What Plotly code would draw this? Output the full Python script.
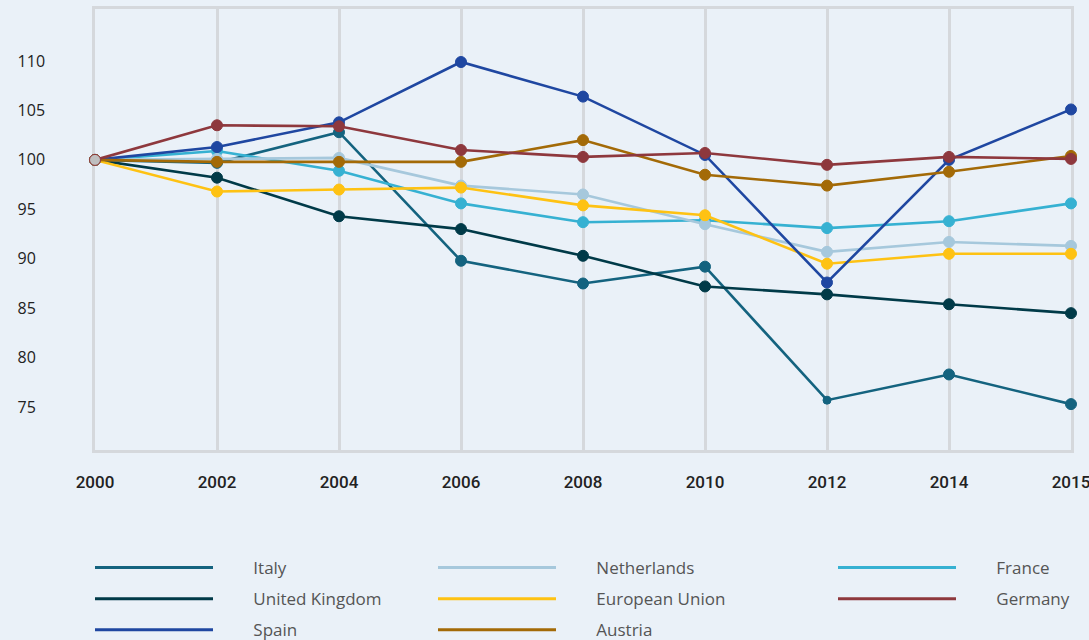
import plotly.graph_objects as go

years = ["2000", "2002", "2004", "2006", "2008", "2010", "2012", "2014", "2015"]

italy = [100, 99.7, 102.8, 89.8, 87.5, 89.2, 75.7, 78.3, 75.3]
uk = [100, 98.2, 94.3, 93.0, 90.3, 87.2, 86.4, 85.4, 84.5]
spain = [100, 101.3, 103.8, 109.9, 106.4, 100.5, 87.6, 100.0, 105.1]
netherlands = [100, 100.1, 100.2, 97.4, 96.5, 93.5, 90.7, 91.7, 91.3]
eu = [100, 96.8, 97.0, 97.2, 95.4, 94.4, 89.5, 90.5, 90.5]
austria = [100, 99.8, 99.8, 99.8, 102.0, 98.5, 97.4, 98.8, 100.4]
france = [100, 100.9, 98.9, 95.6, 93.7, 93.9, 93.1, 93.8, 95.6]
germany = [100, 103.5, 103.4, 101.0, 100.3, 100.7, 99.5, 100.3, 100.1]

y_ticks = [75, 80, 85, 90, 95, 100, 105, 110]

series = [
    ("Italy", italy, "#14637f", "legend"),
    ("United Kingdom", uk, "#003a48", "legend"),
    ("Spain", spain, "#1f47a1", "legend"),
    ("Netherlands", netherlands, "#a6c8dc", "legend2"),
    ("European Union", eu, "#fec213", "legend2"),
    ("Austria", austria, "#a36a07", "legend2"),
    ("France", france, "#36b1d2", "legend3"),
    ("Germany", germany, "#8e383d", "legend3"),
]

draw_order = ["Italy", "United Kingdom", "France", "Netherlands", "European Union",
              "Spain", "Austria", "Germany"]

BG = "#eaf1f8"
GRID = "#d5d8dc"
START = "#bfbfbf"
PAD = "\u00a0" * 8
FIG_SP = "\u2007"

# left-aligned look for y tick labels: pad shorter labels with figure spaces
y_ticktext = [str(v) + FIG_SP * (3 - len(str(v))) for v in y_ticks]

fig = go.Figure()
lookup = {s[0]: s for s in series}
for name in draw_order:
    _, vals, col, _ = lookup[name]
    mcolors = [START] + [col] * (len(vals) - 1)
    msizes = [11] * len(vals)
    if name == "Italy":
        msizes[6] = 8
    fig.add_trace(go.Scatter(
        x=years, y=vals, mode="lines+markers", name=name,
        line=dict(color=col, width=2.6),
        marker=dict(color=mcolors, size=msizes, opacity=1),
        showlegend=False, cliponaxis=False, hoverinfo="x+y+name",
    ))

for name, vals, col, lg in series:
    fig.add_trace(go.Scatter(
        x=[None], y=[None], mode="lines", name=PAD + name,
        line=dict(color=col, width=3), legend=lg, showlegend=True,
        legendgroup=name,
    ))

yr = [70.66, 115.26]
legend_common = dict(
    orientation="v", xref="container", yref="container",
    xanchor="left", yanchor="top",
    bgcolor="rgba(0,0,0,0)", itemwidth=118, tracegroupgap=6,
    traceorder="grouped",
    font=dict(family="Open Sans", size=17, color="#555555"),
    itemclick=False, itemdoubleclick=False,
)
fig.update_layout(
    width=1089, height=640,
    paper_bgcolor=BG, plot_bgcolor=BG,
    margin=dict(l=95, r=18, t=9, b=190, autoexpand=False),
    xaxis=dict(
        type="category", range=[0, len(years) - 1], layer="below traces",
        showgrid=True, gridcolor=GRID, gridwidth=2.5,
        showline=True, linecolor=GRID, linewidth=2.5, mirror=True,
        ticks="outside", ticklen=15, tickcolor="rgba(0,0,0,0)",
        tickfont=dict(family="Roboto", size=17, color="#222222", weight=500),
        zeroline=False, tickangle=0,
    ),
    yaxis=dict(
        range=yr, showline=True, mirror=True, layer="below traces",
        linecolor=GRID, linewidth=2.5, showgrid=False, zeroline=False,
        tickvals=y_ticks, ticktext=y_ticktext,
        ticks="outside", ticklen=44, tickcolor="rgba(0,0,0,0)",
        tickfont=dict(family="Open Sans", size=16, color="#222222"),
    ),
    legend=dict(x=90 / 1089, y=1 - 550 / 640, **legend_common),
    legend2=dict(x=433 / 1089, y=1 - 550 / 640, **legend_common),
    legend3=dict(x=833 / 1089, y=1 - 550 / 640, **legend_common),
    showlegend=True,
)

fig.write_html("out.html", config={"displayModeBar": False},
               post_script="document.body.style.margin='0';")
